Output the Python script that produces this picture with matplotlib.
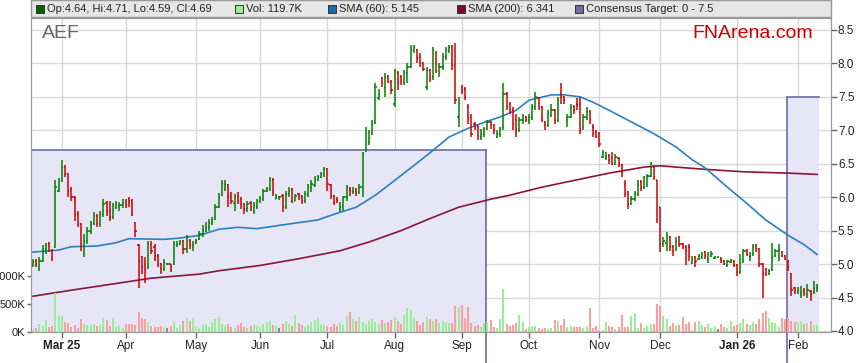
import numpy as np
import matplotlib.pyplot as plt
from matplotlib.collections import LineCollection
from matplotlib.patches import Rectangle

plt.rcParams['font.family'] = ['Liberation Sans', 'DejaVu Sans']

# daily bars (AEF), oldest first
opens = [4.98, 5.05, 4.95, 5.05, 5.22, 5.30, 5.20, 5.25, 6.10, 6.25,
         6.45, 6.35, 6.12, 6.00, 5.75, 5.60, 5.15, 5.35, 5.50, 5.62,
         5.72, 5.60, 5.75, 5.92, 5.80, 5.70, 5.85, 5.86, 5.88, 5.95,
         5.98, 5.95, 5.62, 5.28, 5.10, 5.00, 4.95, 5.30, 5.25, 5.12,
         5.00, 4.92, 5.00, 5.00, 5.00, 5.28, 5.30, 5.35, 5.22, 5.35,
         5.25, 5.32, 5.38, 5.45, 5.50, 5.55, 5.62, 5.68, 5.86, 6.03,
         6.12, 6.18, 6.02, 5.92, 6.02, 5.98, 5.90, 5.82, 5.92, 5.80,
         5.86, 5.95, 5.98, 6.10, 6.12, 6.25, 5.98, 6.00, 6.02, 5.85,
         6.05, 6.12, 5.95, 6.05, 6.02, 5.95, 6.05, 6.15, 6.18, 6.26,
         6.30, 6.35, 6.42, 6.18, 6.02, 5.97, 5.82, 5.85, 6.00, 6.12,
         6.08, 6.12, 6.08, 6.15, 6.70, 6.82, 6.95, 7.12, 7.48, 7.78,
         7.65, 7.80, 7.72, 7.40, 7.85, 7.80, 7.72, 7.85, 7.95, 8.20,
         8.20, 8.10, 8.00, 7.65, 7.90, 7.80, 8.15, 7.88, 7.95, 8.10,
         8.20, 8.25, 7.98, 7.20, 7.65, 7.62, 7.35, 7.20, 7.10, 7.05,
         6.90, 6.95, 7.02, 7.12, 7.08, 6.90, 6.95, 7.05, 7.55, 7.40,
         7.30, 7.15, 7.00, 7.15, 7.20, 7.15, 7.20, 7.35, 7.48, 7.35,
         7.12, 7.08, 7.22, 7.30, 7.15, 7.55, 7.50, 7.15, 7.20, 7.35,
         7.40, 7.40, 7.05, 7.20, 7.28, 7.05, 6.98, 6.95, 6.60, 6.58,
         6.62, 6.58, 6.50, 6.58, 6.48, 6.20, 6.08, 5.90, 5.98, 6.05,
         6.22, 6.15, 6.28, 6.32, 6.45, 6.25, 5.85, 5.30, 5.32, 5.40,
         5.25, 5.22, 5.40, 5.30, 5.25, 5.25, 5.02, 5.10, 5.08, 5.10,
         5.18, 5.08, 5.12, 5.09, 5.10, 5.08, 5.05, 4.98, 5.03, 5.05,
         4.98, 4.88, 5.05, 5.20, 5.10, 5.15, 5.28, 5.22, 5.00, 4.92,
         4.85, 4.92, 5.12, 5.20, 5.18, 5.12, 5.05, 4.85, 4.65, 4.58,
         4.55, 4.62, 4.56, 4.60, 4.58, 4.64]
highs = [5.08, 5.08, 5.10, 5.28, 5.32, 5.33, 5.22, 6.26, 6.28, 6.55,
         6.48, 6.36, 6.15, 6.02, 5.80, 5.62, 5.45, 5.55, 5.65, 5.78,
         5.75, 5.80, 5.98, 5.95, 5.95, 5.92, 5.95, 5.93, 5.98, 5.98,
         6.00, 5.97, 5.63, 5.30, 5.12, 5.10, 5.35, 5.34, 5.30, 5.15,
         5.02, 5.08, 5.02, 5.00, 5.35, 5.35, 5.36, 5.36, 5.43, 5.38,
         5.35, 5.38, 5.50, 5.58, 5.63, 5.68, 5.70, 5.90, 6.06, 6.26,
         6.25, 6.20, 6.08, 6.05, 6.08, 6.00, 5.92, 5.95, 5.95, 5.93,
         5.98, 6.02, 6.12, 6.15, 6.30, 6.28, 6.05, 6.02, 6.05, 6.10,
         6.15, 6.14, 6.05, 6.06, 6.04, 6.10, 6.20, 6.25, 6.32, 6.33,
         6.38, 6.45, 6.44, 6.20, 6.04, 6.00, 5.93, 6.02, 6.18, 6.15,
         6.15, 6.14, 6.20, 6.68, 7.05, 7.00, 7.15, 7.70, 7.62, 7.80,
         7.85, 7.82, 7.75, 7.92, 7.88, 7.82, 7.90, 8.00, 8.28, 8.28,
         8.22, 8.15, 8.02, 7.95, 7.92, 8.25, 8.18, 8.00, 8.15, 8.25,
         8.28, 8.28, 8.30, 7.50, 7.68, 7.65, 7.40, 7.25, 7.12, 7.08,
         7.02, 7.05, 7.15, 7.14, 7.10, 7.00, 7.05, 7.70, 7.58, 7.42,
         7.35, 7.25, 7.20, 7.25, 7.22, 7.25, 7.40, 7.58, 7.50, 7.37,
         7.14, 7.30, 7.40, 7.32, 7.50, 7.70, 7.52, 7.25, 7.40, 7.38,
         7.48, 7.50, 7.25, 7.35, 7.30, 7.10, 7.00, 6.98, 6.70, 6.68,
         6.64, 6.68, 6.65, 6.60, 6.50, 6.25, 6.10, 6.02, 6.10, 6.25,
         6.25, 6.32, 6.35, 6.52, 6.48, 6.26, 5.86, 5.40, 5.48, 5.42,
         5.28, 5.40, 5.42, 5.32, 5.28, 5.30, 5.12, 5.12, 5.15, 5.18,
         5.20, 5.18, 5.20, 5.12, 5.11, 5.10, 5.06, 5.06, 5.07, 5.06,
         5.00, 5.15, 5.22, 5.22, 5.18, 5.30, 5.30, 5.24, 5.02, 4.94,
         4.92, 5.32, 5.22, 5.30, 5.20, 5.14, 5.06, 4.86, 4.66, 4.66,
         4.68, 4.64, 4.70, 4.62, 4.75, 4.71]
lows = [4.96, 4.95, 4.90, 5.03, 5.15, 5.18, 5.05, 5.24, 6.08, 6.22,
        6.30, 6.00, 5.95, 5.65, 5.55, 5.20, 5.10, 5.30, 5.45, 5.58,
        5.55, 5.55, 5.70, 5.72, 5.65, 5.68, 5.82, 5.80, 5.84, 5.84,
        5.86, 5.72, 5.40, 4.65, 4.85, 4.72, 4.92, 5.15, 5.05, 4.95,
        4.85, 4.90, 4.98, 4.88, 4.98, 5.26, 5.28, 5.15, 5.17, 5.22,
        5.20, 5.30, 5.36, 5.40, 5.48, 5.50, 5.58, 5.66, 5.84, 6.02,
        6.10, 5.85, 5.90, 5.80, 5.90, 5.82, 5.75, 5.78, 5.80, 5.75,
        5.82, 5.92, 5.95, 6.08, 6.10, 6.02, 5.98, 5.96, 5.78, 5.82,
        6.00, 5.92, 5.94, 5.96, 5.90, 5.92, 6.00, 6.08, 6.15, 6.24,
        6.28, 6.30, 6.10, 5.98, 5.88, 5.92, 5.78, 5.80, 5.95, 6.02,
        6.05, 6.02, 6.05, 6.00, 6.67, 6.78, 6.93, 7.10, 7.45, 7.65,
        7.50, 7.70, 7.55, 7.35, 7.60, 7.68, 7.68, 7.70, 7.93, 8.15,
        8.00, 7.95, 7.88, 7.60, 7.72, 7.75, 7.85, 7.80, 7.90, 8.05,
        8.15, 7.90, 7.40, 7.05, 7.55, 7.45, 7.10, 6.90, 7.00, 6.85,
        6.85, 6.90, 7.00, 7.02, 6.95, 6.88, 6.90, 7.00, 7.30, 7.25,
        7.00, 6.90, 6.98, 7.10, 7.12, 7.10, 7.15, 7.30, 7.30, 7.12,
        7.00, 7.05, 7.20, 7.10, 7.12, 7.40, 7.40, 7.05, 7.18, 7.25,
        7.30, 6.95, 7.00, 7.15, 7.10, 6.90, 6.88, 6.75, 6.58, 6.55,
        6.50, 6.48, 6.48, 6.45, 6.30, 6.00, 5.82, 5.88, 5.95, 6.02,
        6.10, 6.12, 6.15, 6.30, 6.25, 5.62, 5.18, 5.25, 5.20, 5.20,
        5.12, 5.20, 5.25, 5.22, 4.98, 5.05, 5.00, 4.95, 5.06, 5.08,
        5.08, 5.02, 5.10, 5.08, 5.09, 5.02, 4.98, 4.96, 5.02, 4.95,
        4.82, 4.85, 5.02, 5.12, 5.05, 5.12, 5.18, 4.95, 4.50, 4.82,
        4.83, 4.90, 5.10, 5.05, 5.10, 5.06, 4.90, 4.52, 4.55, 4.56,
        4.50, 4.52, 4.50, 4.45, 4.56, 4.59]
closes = [5.03, 5.00, 5.05, 5.22, 5.28, 5.20, 5.08, 6.15, 6.22, 6.45,
          6.35, 6.10, 6.00, 5.75, 5.60, 5.30, 5.35, 5.50, 5.60, 5.72,
          5.62, 5.75, 5.90, 5.78, 5.70, 5.88, 5.90, 5.88, 5.92, 5.88,
          5.95, 5.75, 5.50, 5.05, 4.95, 4.92, 5.30, 5.20, 5.12, 5.00,
          4.92, 5.02, 5.00, 4.95, 5.30, 5.30, 5.33, 5.22, 5.35, 5.28,
          5.30, 5.35, 5.45, 5.50, 5.55, 5.62, 5.65, 5.85, 6.00, 6.20,
          6.18, 6.00, 5.95, 6.00, 5.95, 5.90, 5.82, 5.90, 5.85, 5.88,
          5.95, 5.98, 6.10, 6.12, 6.25, 6.08, 6.00, 6.00, 5.85, 6.05,
          6.10, 5.95, 6.02, 6.00, 5.95, 6.05, 6.15, 6.20, 6.25, 6.30,
          6.35, 6.42, 6.20, 6.02, 5.92, 5.95, 5.85, 6.00, 6.15, 6.10,
          6.10, 6.08, 6.15, 6.65, 7.00, 6.88, 7.10, 7.65, 7.55, 7.70,
          7.80, 7.72, 7.60, 7.88, 7.70, 7.75, 7.85, 7.95, 8.20, 8.25,
          8.08, 8.00, 7.92, 7.90, 7.78, 8.20, 7.88, 7.95, 8.10, 8.20,
          8.25, 7.98, 7.45, 7.40, 7.60, 7.50, 7.18, 6.95, 7.05, 6.92,
          6.95, 7.02, 7.12, 7.08, 7.00, 6.95, 7.02, 7.55, 7.35, 7.30,
          7.10, 7.00, 7.15, 7.20, 7.15, 7.20, 7.35, 7.50, 7.35, 7.15,
          7.08, 7.25, 7.30, 7.15, 7.45, 7.50, 7.45, 7.20, 7.35, 7.30,
          7.38, 7.00, 7.20, 7.28, 7.15, 6.95, 6.90, 6.80, 6.68, 6.62,
          6.55, 6.50, 6.60, 6.50, 6.38, 6.05, 5.90, 5.98, 6.05, 6.20,
          6.15, 6.30, 6.32, 6.45, 6.30, 5.68, 5.30, 5.35, 5.42, 5.25,
          5.20, 5.35, 5.30, 5.25, 5.20, 5.12, 5.08, 5.05, 5.12, 5.15,
          5.12, 5.15, 5.15, 5.10, 5.10, 5.05, 5.00, 5.05, 5.05, 4.98,
          4.88, 5.02, 5.20, 5.15, 5.12, 5.25, 5.22, 5.00, 4.85, 4.85,
          4.90, 5.10, 5.20, 5.22, 5.12, 5.08, 4.95, 4.62, 4.60, 4.62,
          4.58, 4.58, 4.62, 4.55, 4.65, 4.69]
volume_k = [36, 65, 143, 107, 214, 83, 107, 690,
            286, 286, 185, 155, 95, 125, 77, 226, 143, 125, 125, 143, 107,
            125, 244, 214, 107, 256, 95, 107, 77, 143, 143, 143, 125,
            363,
            256, 226, 173, 107, 83, 95, 107, 83, 77, 107, 185, 77, 125,
            202, 244, 202, 256, 95, 77,
            120, 150, 90, 180, 230, 260, 150, 110, 140, 95,
            80, 120, 160, 90, 70, 110, 130, 100, 85, 140,
            170, 190, 120, 100, 80, 150, 200, 140, 110, 300,
            160, 130, 90, 120, 180, 210, 250, 150, 120, 100,
            90, 140, 110, 160, 130, 280, 350, 240, 200, 260,
            180, 150, 190, 230, 170, 140, 210, 160, 180, 220, 260, 200, 150,
            304, 423, 393, 244, 202, 125, 185, 274, 232, 202, 226, 167, 196,
            185, 167, 155,
            464,
            452, 482, 244, 452, 167, 107, 125, 83, 167, 185, 214, 95, 71, 238,
            768,
            143, 113, 131, 167, 304, 185, 60, 83, 107, 107,
            65, 60, 71, 60, 71, 208, 196, 125, 226, 83,
            107, 83, 95, 83, 71, 107, 423, 71, 107, 36,
            36, 179, 107, 83, 60, 83, 304, 83, 83, 286,
            333, 71, 155, 71, 107, 143, 143,
            500, 464,
            286, 226, 107, 155, 131, 119, 274, 143, 179, 36, 179, 190,
            120, 90, 150, 80, 110, 60, 140, 90, 70, 200, 110, 130, 160, 240,
            150, 120, 180,
            140, 230, 340, 375, 250, 180, 160, 90, 250, 230, 250, 200, 180,
            170, 200, 150, 160, 200, 120, 119.7]

# moving averages, read at a few bar positions
sma60_idx = [0, 8, 12, 20, 26, 30, 41, 46, 52, 58, 64, 70, 80, 89, 95, 101,
             107, 113, 120, 125, 130, 136, 141, 146, 151, 155, 162, 166, 171,
             175, 180, 188, 194, 201, 206, 210, 217, 223, 229, 236, 241, 245]
sma60_val = [5.18, 5.21, 5.26, 5.27, 5.32, 5.38, 5.37, 5.39, 5.43, 5.52, 5.55,
             5.53, 5.60, 5.66, 5.76, 5.85, 6.03, 6.25, 6.51, 6.70, 6.90, 7.03,
             7.12, 7.20, 7.30, 7.45, 7.53, 7.53, 7.50, 7.42, 7.30, 7.10, 6.95,
             6.75, 6.56, 6.44, 6.15, 5.91, 5.66, 5.43, 5.29, 5.145]
sma200_idx = [0, 12, 37, 52, 58, 71, 83, 96, 105, 115, 124, 133, 143, 149,
              159, 170, 180, 191, 196, 201, 209, 222, 236, 245]
sma200_val = [4.52, 4.61, 4.79, 4.85, 4.90, 4.98, 5.08, 5.20, 5.33, 5.50, 5.68,
              5.85, 5.97, 6.03, 6.15, 6.26, 6.36, 6.45, 6.47, 6.45, 6.42, 6.38,
              6.36, 6.341]

# consensus target periods (first bar, last bar, value)
target_from = [0, 236]
target_to = [141, 245]
target_val = [6.7, 7.5]

month_idx = [9, 29, 51, 71, 92, 113, 134, 155, 177, 196, 220, 239]
month_lbl = ['Mar 25', 'Apr', 'May', 'Jun', 'Jul', 'Aug', 'Sep', 'Oct',
             'Nov', 'Dec', 'Jan 26', 'Feb']

up_col = '#008000'
dn_col = '#d00000'
band_col = '#e6e6f6'
band_edge = '#7676a6'

fig = plt.figure(figsize=(8.59, 3.63), dpi=100)
ax = fig.add_axes([31 / 859, 31 / 363, 800 / 859, 314 / 363])
ax.set_xlim(-0.625, 249.375)
ax.set_ylim(3.985, 8.679)

ax.set_axisbelow(True)
ax.set_yticks(np.arange(4.0, 8.51, 0.5))
ax.set_yticklabels(['%.1f' % v for v in np.arange(4.0, 8.51, 0.5)])
ax.set_xticks(month_idx)
ax.set_xticklabels(month_lbl)
ax.grid(True, color='#d9d9d9', lw=1)

# consensus target band
bottom_fig = 3.985 - 31 / 66.9
for f, t, v in zip(target_from, target_to, target_val):
    ax.fill_between([f - 0.5, t + 0.5], 0, v, color=band_col, lw=0, zorder=1)
    ax.plot([f - 0.5, t + 0.5], [v, v], color=band_edge, lw=1.3, zorder=1.5)
ax.plot([target_to[0] + 0.5] * 2, [target_val[0], bottom_fig], color=band_edge,
        lw=1.3, zorder=1.5, clip_on=False)
ax.plot([target_from[1] - 0.5] * 2, [target_val[1], bottom_fig], color=band_edge,
        lw=1.3, zorder=1.5, clip_on=False)

# SMAs
ax.plot(sma200_idx, sma200_val, color='#8a1538', lw=1.2, zorder=3)
ax.plot(sma60_idx, sma60_val, color='#2a80c0', lw=1.2, zorder=3)

# OHLC bars
segs = []
cols = []
for i in range(len(closes)):
    c = up_col if closes[i] >= opens[i] else dn_col
    segs.append([(i, lows[i]), (i, highs[i])])
    segs.append([(i - 0.38, opens[i]), (i, opens[i])])
    segs.append([(i, closes[i]), (i + 0.38, closes[i])])
    cols += [c, c, c]
ax.add_collection(LineCollection(segs, colors=cols, linewidths=1.1, zorder=4))

# volume on its own scale, left side
axv = ax.twinx()
axv.set_ylim(0, 5607)
vcols = []
for i in range(len(volume_k)):
    if closes[i] > opens[i]:
        vcols.append('#99ee99')
    elif closes[i] < opens[i]:
        vcols.append('#ff9c9c')
    else:
        vcols.append('#888888')
axv.bar(range(len(volume_k)), volume_k, width=0.62, color=vcols, zorder=2)

# twinx puts the host ticks on the left: move price to the right
ax.yaxis.tick_right()
ax.yaxis.set_label_position('right')
axv.yaxis.tick_left()
axv.yaxis.set_label_position('left')
axv.set_yticks([0, 500, 1000])
axv.set_yticklabels(['0K', '500K', '1000K'])

ax.tick_params(axis='y', length=4, width=1, color='#666666', labelsize=8.5,
               labelcolor='#222222', pad=1)
ax.tick_params(axis='x', length=4, width=1, color='#666666', labelsize=8.5,
               labelcolor='#222222', pad=2)
axv.tick_params(axis='y', length=3, width=1, color='#666666', labelsize=8,
                labelcolor='#222222', pad=1)
for lbl in ax.get_xticklabels():
    if ' ' in lbl.get_text():
        lbl.set_fontweight('bold')
for s in list(ax.spines.values()) + list(axv.spines.values()):
    s.set_color('#999999')

# header strip with legend
fig.patches.append(Rectangle((31 / 859, 346 / 363), 800 / 859, 17 / 363,
                             transform=fig.transFigure, facecolor='#e6e6e6',
                             edgecolor='#999999', lw=1))
legend_items = [(36, '#006400', 'Op:4.64, Hi:4.71, Lo:4.59, Cl:4.69'),
                (235, '#99ee99', 'Vol: 119.7K'),
                (328, '#1a6aaa', 'SMA (60): 5.145'),
                (457, '#7a0a2a', 'SMA (200): 6.341'),
                (575, '#7070a0', 'Consensus Target: 0 - 7.5')]
for px, col, txt in legend_items:
    fig.patches.append(Rectangle((px / 859, 350.5 / 363), 8 / 859, 8 / 363,
                                 transform=fig.transFigure, facecolor=col,
                                 edgecolor='#333333', lw=0.7))
    fig.text((px + 11) / 859, 354.5 / 363, txt, fontsize=8, color='#222222',
             va='center', ha='left')

fig.text(42 / 859, (363 - 33) / 363, 'AEF', fontsize=14, color='#666666',
         va='center', ha='left')
fig.text(692 / 859, (363 - 33) / 363, 'FNArena.com', fontsize=14,
         color='#cc0000', va='center', ha='left')

fig.savefig('out.png', dpi=100)
